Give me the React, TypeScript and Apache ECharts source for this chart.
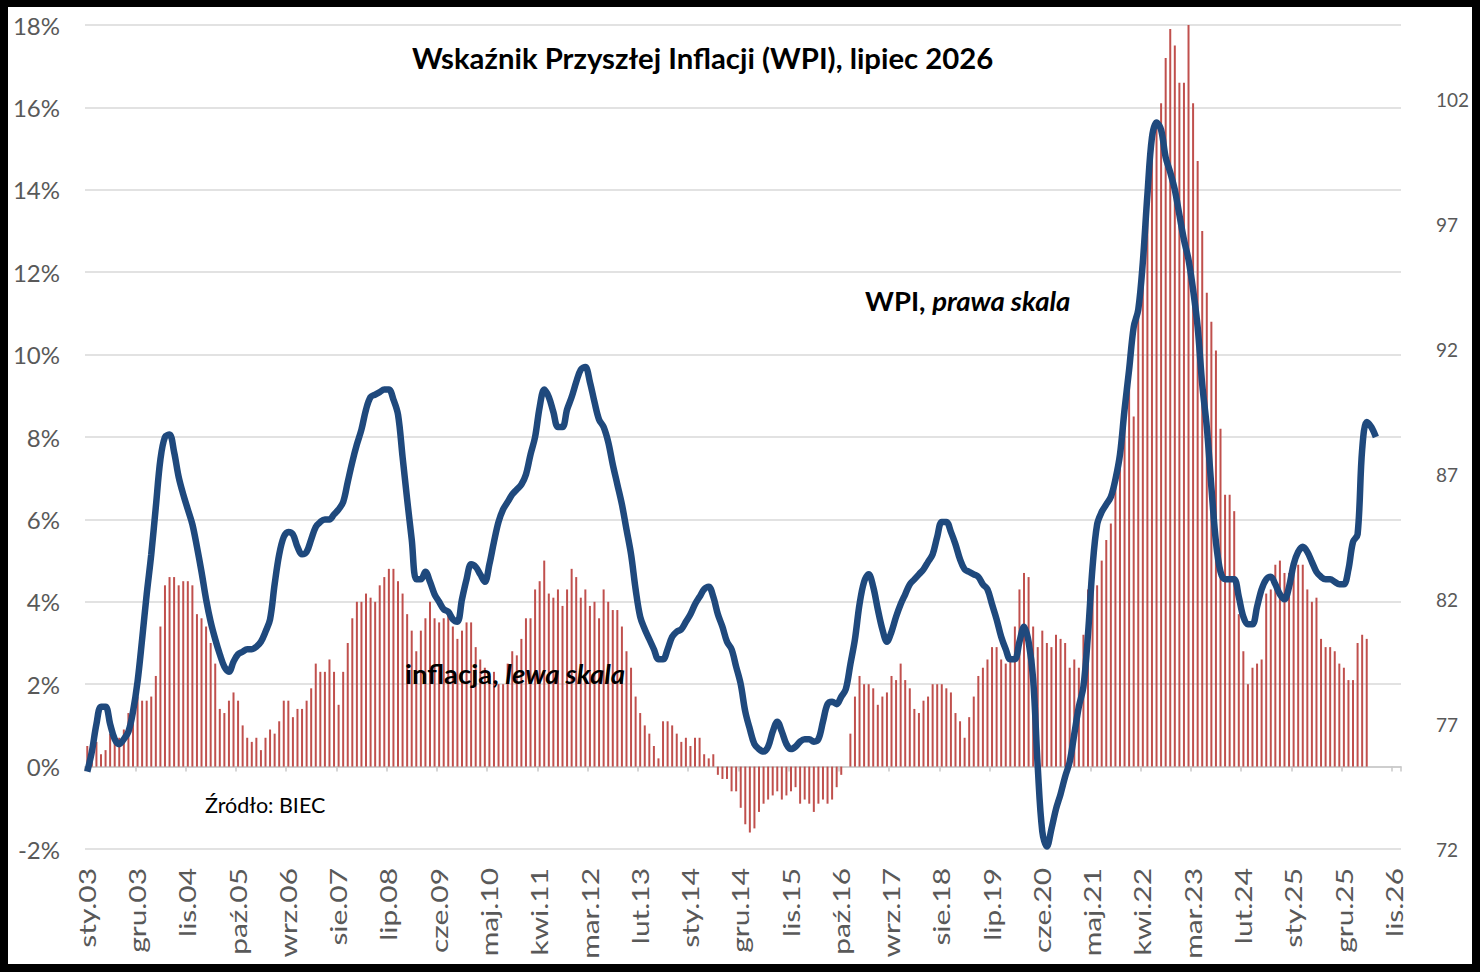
import React, { useEffect, useRef } from 'react';
import * as echarts from 'echarts';

const monthNames = ['sty', 'lut', 'mar', 'kwi', 'maj', 'cze', 'lip', 'sie', 'wrz', 'paź', 'lis', 'gru'];
const years = [2003, 2004, 2005, 2006, 2007, 2008, 2009, 2010, 2011, 2012, 2013, 2014, 2015, 2016, 2017, 2018, 2019, 2020, 2021, 2022, 2023, 2024, 2025, 2026];
const categories = years.flatMap((y) => monthNames.map((m) => `${m}.${String(y % 100).padStart(2, '0')}`));
const labelStep = 11;
const labelIndices = categories.map((_, i) => i).filter((i) => i % labelStep === 0);

// Inflacja (CPI r/r, %), lewa skala: sty.03 .. maj.26
const inflation = [
  0.5, 0.5, 0.6, 0.3, 0.4, 0.8, 0.8, 0.7, 0.9, 1.3, 1.6, 1.7,
  1.6, 1.6, 1.7, 2.2, 3.4, 4.4, 4.6, 4.6, 4.4, 4.5, 4.5, 4.4,
  3.7, 3.6, 3.4, 3.0, 2.5, 1.4, 1.3, 1.6, 1.8, 1.6, 1.0, 0.7,
  0.6, 0.7, 0.4, 0.7, 0.9, 0.8, 1.1, 1.6, 1.6, 1.2, 1.4, 1.4,
  1.6, 1.9, 2.5, 2.3, 2.3, 2.6, 2.3, 1.5, 2.3, 3.0, 3.6, 4.0,
  4.0, 4.2, 4.1, 4.0, 4.4, 4.6, 4.8, 4.8, 4.5, 4.2, 3.7, 3.3,
  2.8, 3.3, 3.6, 4.0, 3.6, 3.5, 3.6, 3.7, 3.4, 3.1, 3.3, 3.5,
  3.5, 2.9, 2.6, 2.4, 2.2, 2.3, 2.0, 2.0, 2.5, 2.8, 2.7, 3.1,
  3.6, 3.6, 4.3, 4.5, 5.0, 4.2, 4.1, 4.3, 3.9, 4.3, 4.8, 4.6,
  4.1, 4.3, 3.9, 4.0, 3.6, 4.3, 4.0, 3.8, 3.8, 3.4, 2.8, 2.4,
  1.7, 1.3, 1.0, 0.8, 0.5, 0.2, 1.1, 1.1, 1.0, 0.8, 0.6, 0.7,
  0.5, 0.7, 0.7, 0.3, 0.2, 0.3, -0.2, -0.3, -0.3, -0.6, -0.6, -1.0,
  -1.4, -1.6, -1.5, -1.1, -0.9, -0.8, -0.7, -0.6, -0.8, -0.7, -0.6, -0.5,
  -0.9, -0.8, -0.9, -1.1, -0.9, -0.8, -0.9, -0.8, -0.5, -0.2, 0.0, 0.8,
  1.7, 2.2, 2.0, 2.0, 1.9, 1.5, 1.7, 1.8, 2.2, 2.1, 2.5, 2.1,
  1.9, 1.4, 1.3, 1.6, 1.7, 2.0, 2.0, 2.0, 1.9, 1.8, 1.3, 1.1,
  0.7, 1.2, 1.7, 2.2, 2.4, 2.6, 2.9, 2.9, 2.6, 2.5, 2.6, 3.4,
  4.3, 4.7, 4.6, 3.4, 2.9, 3.3, 3.0, 2.9, 3.2, 3.1, 3.0, 2.4,
  2.6, 2.4, 3.2, 4.3, 4.7, 4.4, 5.0, 5.5, 5.9, 6.8, 7.8, 8.6,
  9.4, 8.5, 11.0, 12.4, 13.9, 15.5, 15.6, 16.1, 17.2, 17.9, 17.5, 16.6,
  16.6, 18.4, 16.1, 14.7, 13.0, 11.5, 10.8, 10.1, 8.2, 6.6, 6.6, 6.2,
  3.7, 2.8, 2.0, 2.4, 2.5, 2.6, 4.2, 4.3, 4.9, 5.0, 4.7, 4.7,
  4.9, 4.9, 4.9, 4.3, 4.0, 4.1, 3.1, 2.9, 2.9, 2.8, 2.5, 2.4,
  2.1, 2.1, 3.0, 3.2, 3.1,
];

// WPI, prawa skala: sty.03 .. lip.26
const wpi = [
  75.1, 75.9, 77.0, 77.7, 77.7, 77.0, 76.4, 76.2, 76.4, 76.7, 77.5, 78.7,
  80.4, 82.2, 83.8, 85.7, 87.6, 88.5, 88.6, 87.9, 86.9, 86.2, 85.6, 85.0,
  84.1, 83.1, 82.0, 81.1, 80.4, 79.8, 79.3, 79.1, 79.5, 79.8, 79.9, 80.0,
  80.0, 80.1, 80.3, 80.7, 81.2, 82.6, 83.8, 84.5, 84.7, 84.6, 84.1, 83.8,
  83.9, 84.4, 84.9, 85.1, 85.2, 85.2, 85.4, 85.6, 85.9, 86.7, 87.5, 88.2,
  88.8, 89.6, 90.1, 90.2, 90.3, 90.4, 90.4, 90.0, 89.4, 87.7, 86.0, 84.4,
  82.8, 82.8, 83.1, 82.7, 82.2, 81.9, 81.6, 81.5, 81.2, 81.1, 82.0, 82.8,
  83.4, 83.3, 83.0, 82.7, 83.4, 84.3, 85.1, 85.6, 85.9, 86.2, 86.4, 86.6,
  87.0, 87.8, 88.5, 89.7, 90.4, 90.1, 89.5, 88.9, 88.9, 89.6, 90.1, 90.7,
  91.2, 91.3, 90.7, 89.9, 89.2, 88.9, 88.3, 87.4, 86.6, 85.8, 84.8, 83.8,
  82.4, 81.3, 80.8, 80.4, 80.0, 79.6, 79.6, 80.0, 80.5, 80.7, 80.8, 81.1,
  81.4, 81.8, 82.1, 82.4, 82.5, 82.1, 81.4, 80.9, 80.3, 80.0, 79.3, 78.6,
  77.5, 76.8, 76.2, 76.0, 75.9, 76.1, 76.7, 77.1, 76.7, 76.2, 76.0, 76.1,
  76.3, 76.4, 76.4, 76.3, 76.4, 77.1, 77.8, 77.9, 77.8, 78.1, 78.4, 79.4,
  80.4, 81.8, 82.7, 83.0, 82.5, 81.6, 80.8, 80.3, 80.7, 81.3, 81.8, 82.2,
  82.6, 82.8, 83.0, 83.2, 83.5, 83.8, 84.5, 85.1, 85.1, 84.7, 84.2, 83.6,
  83.2, 83.1, 83.0, 82.9, 82.6, 82.4, 81.8, 81.2, 80.5, 80.0, 79.6, 79.6,
  80.3, 80.9, 80.3, 78.8, 75.3, 72.7, 72.1, 72.8, 73.6, 74.2, 74.9, 75.5,
  76.6, 77.7, 78.5, 80.6, 83.3, 85.0, 85.5, 85.8, 86.1, 86.8, 87.8, 89.6,
  91.2, 92.9, 93.6, 95.5, 98.2, 100.5, 101.1, 100.8, 99.7, 99.1, 98.4, 97.4,
  96.4, 95.6, 94.4, 92.9, 90.6, 88.9, 86.5, 84.3, 83.1, 82.8, 82.8, 82.8,
  82.1, 81.3, 81.0, 81.0, 81.7, 82.4, 82.8, 82.9, 82.6, 82.2, 82.0, 82.5,
  83.4, 83.9, 84.1, 83.9, 83.5, 83.1, 82.9, 82.8, 82.8, 82.7, 82.6, 82.6,
  83.2, 84.3, 84.6, 88.0, 89.1, 88.9, 88.5,
];

const leftTicks = { min: -2, max: 18, interval: 2 };
const rightTicks = { min: 72, max: 105, interval: 5 };

const FONT = 'Lato, "Open Sans", sans-serif';

export default function App() {
  const ref = useRef<HTMLDivElement>(null);

  useEffect(() => {
    if (!ref.current) return;
    const chart = echarts.init(ref.current, undefined, { renderer: 'svg' });
    const boldRich = (size: number) => ({
      a: { fontFamily: FONT, fontWeight: 'bold', fontSize: size, fill: '#000', color: '#000' },
      b: { fontFamily: FONT, fontWeight: 'bold', fontStyle: 'italic', fontSize: size, fill: '#000', color: '#000' },
    });
    chart.setOption({
      animation: false,
      backgroundColor: '#ffffff',
      textStyle: { fontFamily: FONT },
      grid: { left: 77, right: 71, top: 18, bottom: 115, containLabel: false, outerBoundsMode: 'none' },
      xAxis: [
        {
          type: 'category',
          data: categories,
          boundaryGap: true,
          position: 'bottom',
          axisLine: { show: false, onZero: false },
          axisTick: { show: false },
          axisLabel: { show: false },
          splitLine: { show: false },
        },
        {
          type: 'category',
          data: categories,
          boundaryGap: true,
          position: 'bottom',
          axisLine: { show: true, onZero: true, lineStyle: { color: '#C8C8C8', width: 1.5 } },
          axisTick: { show: true, interval: labelStep - 1, length: 5, lineStyle: { color: '#C8C8C8', width: 1.5 } },
          axisLabel: { show: false },
          splitLine: { show: false },
        },
      ],
      yAxis: [
        {
          type: 'value',
          position: 'left',
          min: leftTicks.min,
          max: leftTicks.max,
          interval: leftTicks.interval,
          axisLine: { show: false },
          axisTick: { show: false },
          axisLabel: { formatter: '{value}%', color: '#595959', fontSize: 24, margin: 25, fontFamily: FONT },
          splitLine: { lineStyle: { color: '#D9D9D9', width: 1.5 } },
        },
        {
          type: 'value',
          position: 'right',
          min: rightTicks.min,
          max: rightTicks.max,
          interval: rightTicks.interval,
          axisLine: { show: false },
          axisTick: { show: false },
          axisLabel: { color: '#595959', fontSize: 19, margin: 35, showMaxLabel: false, fontFamily: FONT },
          splitLine: { show: false },
        },
      ],
      series: [
        {
          name: 'inflacja',
          type: 'bar',
          data: inflation,
          xAxisIndex: 0,
          yAxisIndex: 0,
          barWidth: 2,
          itemStyle: { color: '#C0504D' },
          z: 1,
        },
        {
          name: 'WPI',
          type: 'line',
          data: wpi,
          xAxisIndex: 0,
          yAxisIndex: 1,
          smooth: 0.35,
          symbol: 'none',
          lineStyle: { color: '#1F497D', width: 6.5 },
          z: 3,
        },
        {
          name: 'etykiety',
          type: 'custom',
          xAxisIndex: 0,
          yAxisIndex: 0,
          clip: false,
          silent: true,
          data: labelIndices.map((i) => [i, leftTicks.min]),
          renderItem: (params: any, api: any) => {
            const idx = api.value(0);
            const p = api.coord([idx, api.value(1)]);
            return {
              type: 'text',
              x: p[0],
              y: p[1] + 19,
              rotation: Math.PI / 2,
              scaleX: 1.3,
              style: {
                text: categories[idx],
                fill: '#595959',
                font: `23px ${FONT}`,
                align: 'right',
                verticalAlign: 'middle',
                textAlign: 'right',
                textVerticalAlign: 'middle',
              },
            };
          },
          z: 2,
        },
      ],
      graphic: [
        {
          type: 'text',
          x: 404,
          y: 50,
          style: {
            text: 'Wskaźnik Przyszłej Inflacji (WPI), lipiec 2026',
            fill: '#000',
            font: `bold 29.3px ${FONT}`,
            verticalAlign: 'middle',
            textVerticalAlign: 'middle',
          },
          z: 10,
        },
        {
          type: 'text',
          x: 857,
          y: 293,
          style: {
            text: '{a|WPI, }{b|prawa skala}',
            rich: boldRich(27.5),
            verticalAlign: 'middle',
            textVerticalAlign: 'middle',
          },
          z: 10,
        },
        {
          type: 'text',
          x: 397,
          y: 666,
          style: {
            text: '{a|inflacja, }{b|lewa skala}',
            rich: boldRich(27.5),
            verticalAlign: 'middle',
            textVerticalAlign: 'middle',
          },
          z: 10,
        },
        {
          type: 'text',
          x: 197,
          y: 798,
          style: {
            text: 'Źródło: BIEC',
            fill: '#000',
            font: `21.5px ${FONT}`,
            verticalAlign: 'middle',
            textVerticalAlign: 'middle',
          },
          z: 10,
        },
      ],
    });
    return () => chart.dispose();
  }, []);

  return (
    <div
      style={{
        position: 'fixed',
        left: 0,
        top: 0,
        width: 1480,
        height: 972,
        boxSizing: 'border-box',
        borderStyle: 'solid',
        borderColor: '#000',
        borderWidth: '7px 8px 8px 8px',
        background: '#fff',
      }}
    >
      <div ref={ref} style={{ width: 1464, height: 957 }} />
    </div>
  );
}
